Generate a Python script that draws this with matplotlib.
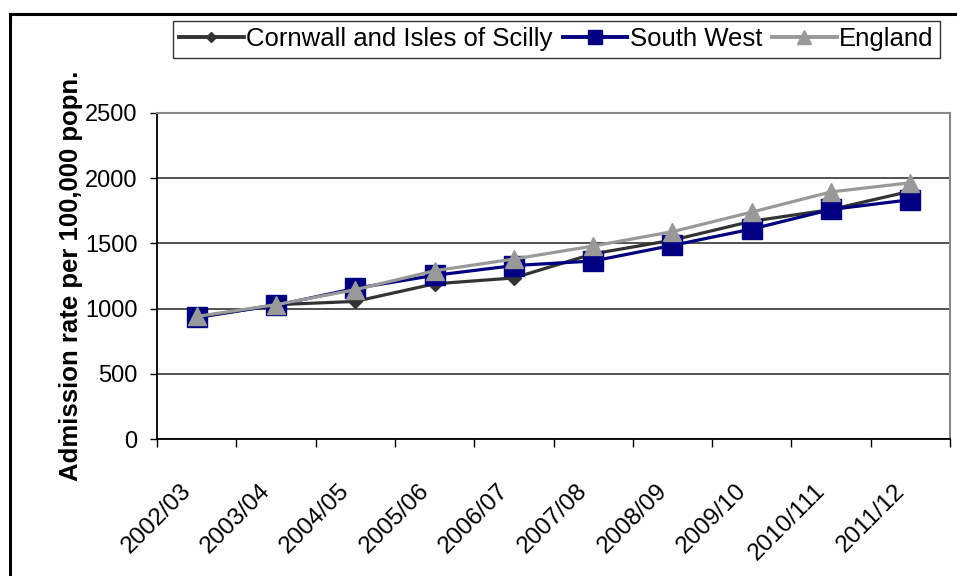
import matplotlib
matplotlib.use("Agg")
import matplotlib.pyplot as plt
import matplotlib.transforms as transforms
from matplotlib.patches import Rectangle

plt.rcParams['font.family'] = ['Liberation Sans', 'DejaVu Sans']

years = ["2002/03", "2003/04", "2004/05", "2005/06", "2006/07",
         "2007/08", "2008/09", "2009/10", "2010/111", "2011/12"]
cornwall = [930, 1030, 1055, 1190, 1235, 1420, 1525, 1670, 1760, 1900]
south_west = [935, 1025, 1155, 1255, 1330, 1365, 1485, 1610, 1760, 1835]
england = [940, 1030, 1145, 1290, 1380, 1480, 1590, 1740, 1895, 1965]

W, H = 957, 576
fig = plt.figure(figsize=(W / 100, H / 100), dpi=100)
ax = fig.add_axes([157 / W, 1 - 439 / H, (950 - 157) / W, (439 - 113) / H])

x = list(range(len(years)))
ax.plot(x, cornwall, color="#333333", lw=2.3, marker="D", ms=7,
        label="Cornwall and Isles of Scilly", zorder=3)
ax.plot(x, south_west, color="#000080", lw=2.3, marker="s", ms=14,
        label="South West", zorder=4)
ax.plot(x, england, color="#999999", lw=2.3, marker="^", ms=13,
        label="England", zorder=5)

ax.set_xlim(-0.5, len(years) - 0.5)
ax.set_ylim(0, 2500)
ax.set_yticks([0, 500, 1000, 1500, 2000, 2500])
ax.set_xticks(x)
ax.set_xticklabels(years, rotation=45, ha="right", va="center",
                   rotation_mode="anchor")
ax.set_xticks([i - 0.5 for i in range(len(years) + 1)], minor=True)
ax.tick_params(axis="x", which="major", length=0, pad=35, labelsize=17.5)
ax.tick_params(axis="x", which="minor", length=6, width=1, direction="out")
ax.tick_params(axis="y", length=5, width=1, labelsize=17, pad=9)

# nudge the slanted year labels a little to the left of each category
shift = transforms.ScaledTranslation(-0.09, 0, fig.dpi_scale_trans)
for lbl in ax.get_xticklabels():
    lbl.set_transform(lbl.get_transform() + shift)

ax.grid(axis="y", color="#222222", lw=1.1)
ax.set_axisbelow(True)
for side in ["left", "bottom"]:
    ax.spines[side].set_color("black")
    ax.spines[side].set_linewidth(1.3)
for side in ["top", "right"]:
    ax.spines[side].set_color("#888888")
    ax.spines[side].set_linewidth(1.5)

fig.text(71 / W, 1 - 276 / H, "Admission rate per 100,000 popn.",
         rotation=90, ha="center", va="center", fontsize=18.5,
         fontweight="bold")

leg = fig.legend(loc="upper right", bbox_to_anchor=(940 / W, 1 - 21 / H),
                 ncol=3, fontsize=18.5, frameon=True, fancybox=False,
                 edgecolor="black", handlelength=2.5, handletextpad=0.1,
                 columnspacing=0.4, borderpad=0.25, borderaxespad=0)
leg.get_frame().set_linewidth(1.0)
for h in leg.legend_handles:
    h.set_markersize(h.get_markersize() * 0.75)
    h.set_linewidth(2.8)

# outer chart frame
fig.patches.append(Rectangle((10 / W, -0.1), 1.2, 1.1 - 14 / H,
                             transform=fig.transFigure, fill=False,
                             edgecolor="black", lw=2.2))

fig.savefig("out.png", dpi=100)
